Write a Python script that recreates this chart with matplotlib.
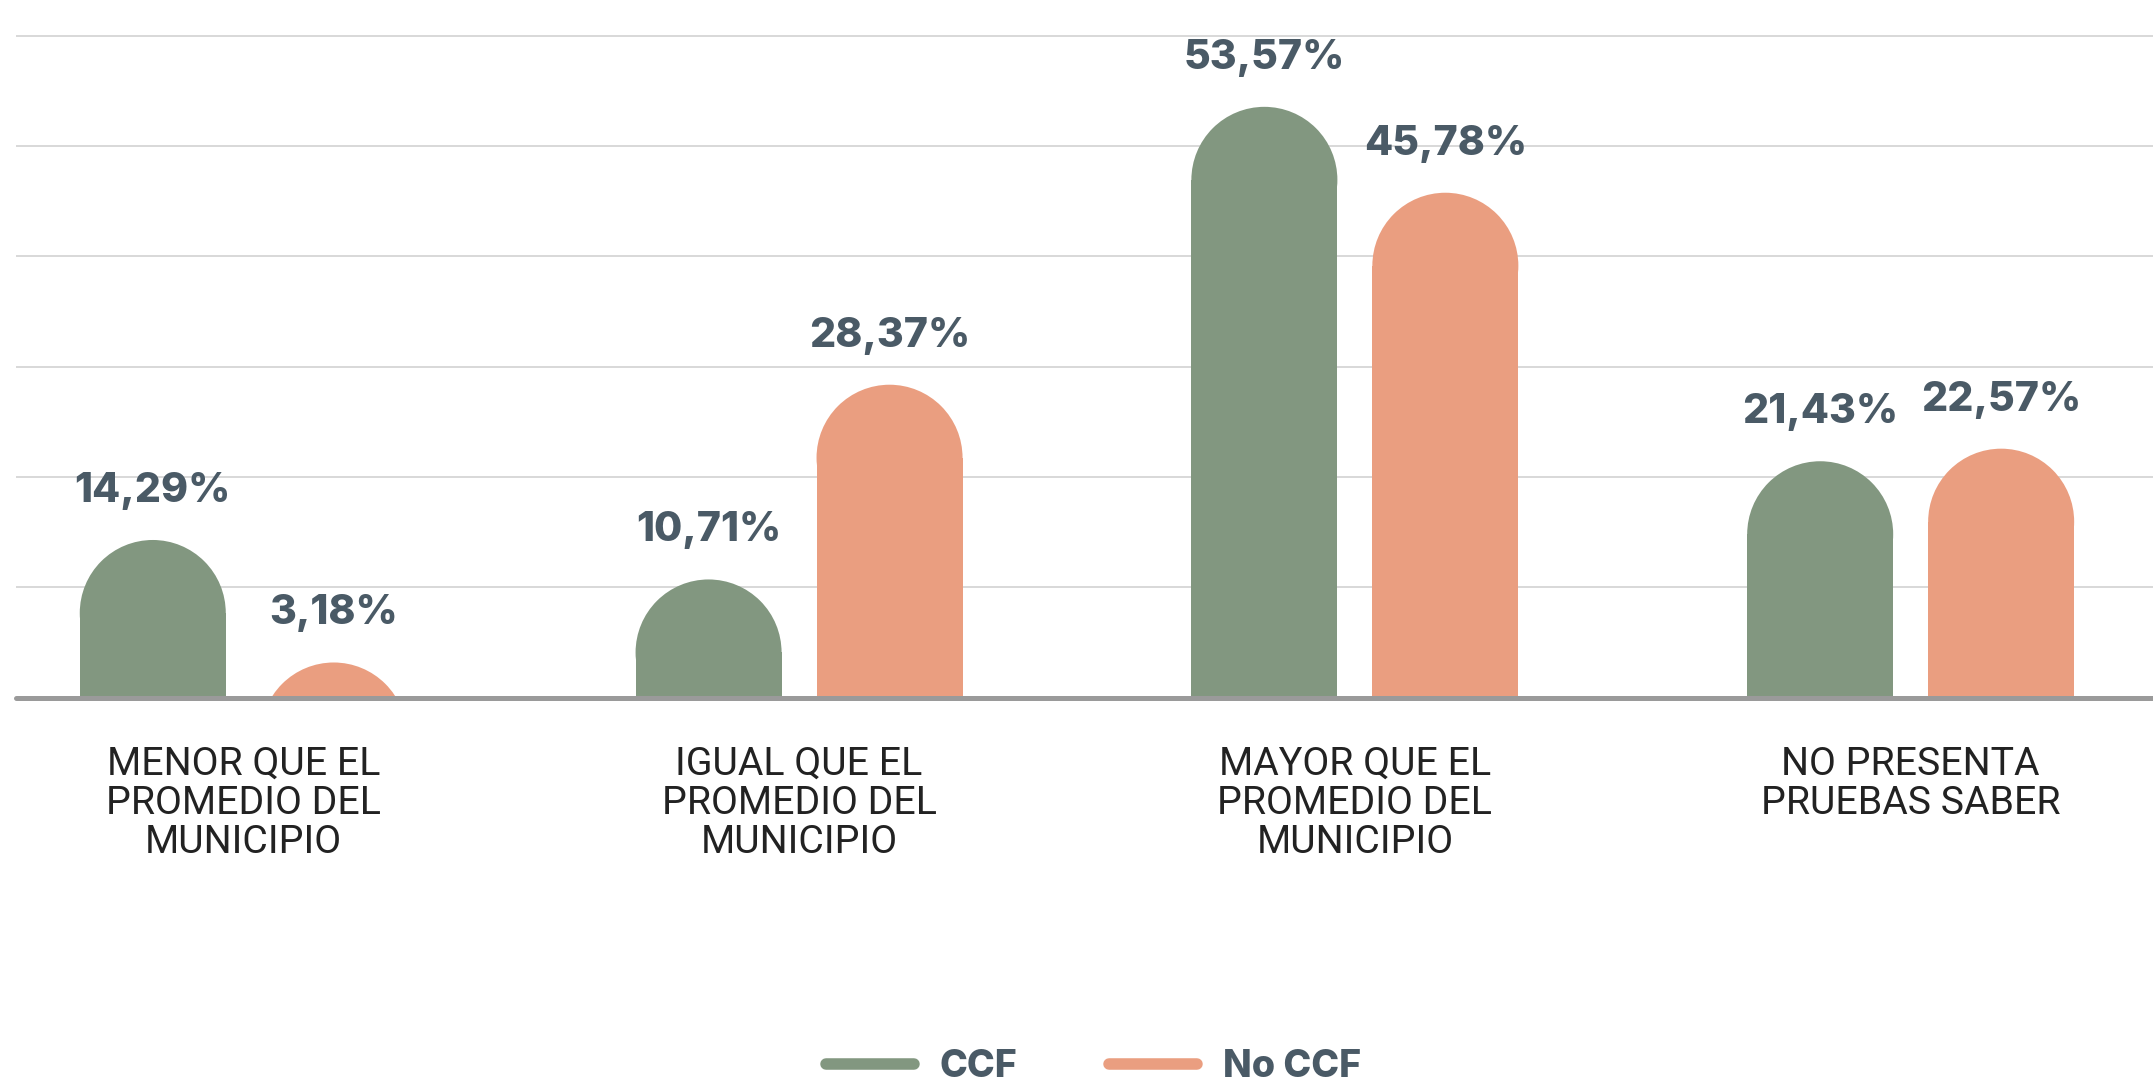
import matplotlib.pyplot as plt
import numpy as np
from matplotlib.patches import Rectangle, Ellipse
from matplotlib.lines import Line2D

# Data
categories = ['MENOR QUE EL\nPROMEDIO DEL\nMUNICIPIO',
              'IGUAL QUE EL\nPROMEDIO DEL\nMUNICIPIO',
              'MAYOR QUE EL\nPROMEDIO DEL\nMUNICIPIO',
              'NO PRESENTA\nPRUEBAS SABER']
ccf = [14.29, 10.71, 53.57, 21.43]
no_ccf = [3.18, 28.37, 45.78, 22.57]
series_names = ['CCF', 'No CCF']

colors = ['#829780', '#EA9E80']
text_color = '#4A5A66'

fig = plt.figure(figsize=(21.53, 10.84), dpi=100)
ax_box = [0.0074, 0.3565, 0.9926, 0.6307]
ax = fig.add_axes(ax_box)
xmin, xmax = -0.409, 3.436
ymax = 62
ax.set_xlim(xmin, xmax)
ax.set_ylim(0, ymax)

x = np.arange(len(categories))
width = 0.2627
offset = 0.1628

# y radius of the round cap, so it looks like a half circle on screen
px_x = fig.get_figwidth() * fig.dpi * ax_box[2] / (xmax - xmin)
px_y = fig.get_figheight() * fig.dpi * ax_box[3] / ymax
ry = (width / 2) * px_x / px_y


def rounded_bar(xc, val, color):
    if val > ry:
        ax.add_patch(Rectangle((xc - width / 2, 0), width, val - ry,
                               facecolor=color, lw=0, zorder=2))
    ax.add_patch(Ellipse((xc, val - ry), width, 2 * ry,
                         facecolor=color, lw=0, zorder=2))


def fmt(v):
    return f'{v:.2f}'.replace('.', ',') + '%'


for i in range(len(categories)):
    for vals, sign, col in [(ccf, -1, colors[0]), (no_ccf, 1, colors[1])]:
        xc = x[i] + sign * offset
        rounded_bar(xc, vals[i], col)
        ax.annotate(fmt(vals[i]), (xc, vals[i]), xytext=(0, 27.4),
                    textcoords='offset points', ha='center', va='baseline',
                    fontsize=29.5, fontweight=800, family='Inter',
                    color=text_color, annotation_clip=False)

# grid and baseline
ax.set_yticks(range(0, 61, 10))
ax.yaxis.grid(True, color='#D6D6D6', lw=1.3)
ax.set_axisbelow(True)
ax.axhline(0, color='#9A9A9A', lw=3.6, solid_capstyle='round',
           clip_on=False, zorder=3)
for s in ax.spines.values():
    s.set_visible(False)
ax.tick_params(axis='y', length=0, labelleft=False)

ax.set_xticks(x)
ax.set_xticklabels(categories, family='Roboto', fontsize=28.3,
                   color='#222222', linespacing=1.06)
ax.tick_params(axis='x', length=0, pad=35)

# legend
handles = [Line2D([0], [0], color=c, lw=8.3, solid_capstyle='round')
           for c in colors]
fig.legend(handles, series_names, loc='center', bbox_to_anchor=(0.508, 0.0155),
           ncol=2, frameon=False, borderpad=0,
           prop={'family': 'Inter', 'weight': 800, 'size': 27},
           labelcolor=text_color, handlelength=2.33, handletextpad=0.7,
           columnspacing=2.45)

plt.savefig('out.png', dpi=100)
